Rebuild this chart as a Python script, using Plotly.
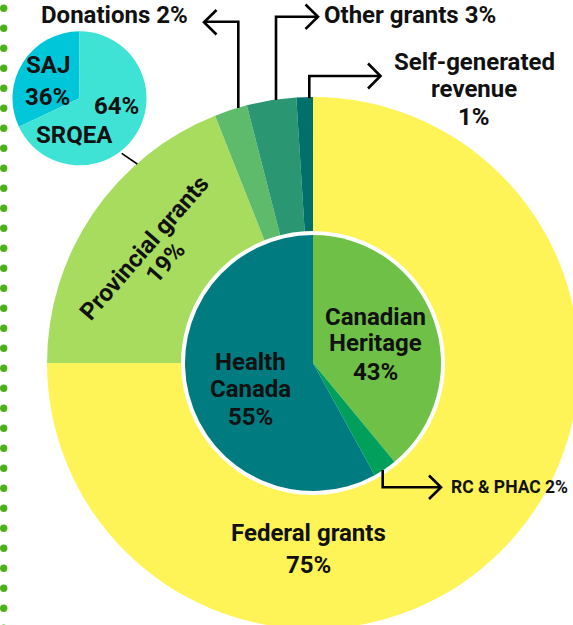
import plotly.graph_objects as go

# ---------------- data ----------------
outer_labels = ["Federal grants", "Provincial grants", "Donations", "Other grants", "Self-generated revenue"]
outer_values = [75, 19, 2, 3, 1]
outer_colors = ["#FEF458", "#A8DC5E", "#5EBB6C", "#2A9672", "#00706A"]

inner_labels = ["Canadian Heritage", "RC & PHAC", "Health Canada"]
inner_values = [39, 3, 58]          # slice sizes as drawn in the picture
inner_pct = ["43%", "2%", "55%"]     # percentages as printed
inner_colors = ["#6EC046", "#00A05C", "#007B80"]

prov_labels = ["SAJ", "SRQEA"]
prov_values = [32, 68]               # slice sizes as drawn
prov_pct = ["36%", "64%"]
prov_colors = ["#00C6DA", "#3EE3D6"]

# ---------------- layout helpers ----------------
W, H = 590, 640
def X(px):
    return px / W
def Y(py):
    return 1 - py / H
def dom(cx, cy, r):
    return dict(x=[X(cx - r), X(cx + r)], y=[Y(cy + r), Y(cy - r)])

FONT = "Roboto"
TXT = "#111111"
FS = 24

fig = go.Figure()

# outer ring
fig.add_trace(go.Pie(
    labels=outer_labels, values=outer_values, sort=False, direction="clockwise",
    rotation=0, hole=132 / 266, domain=dom(313, 363, 266),
    marker=dict(colors=outer_colors, line=dict(width=0)),
    textinfo="none", hoverinfo="label+percent", showlegend=False))

# inner federal breakdown
fig.add_trace(go.Pie(
    labels=inner_labels, values=inner_values, sort=False, direction="clockwise",
    rotation=0, domain=dom(313, 363, 128),
    marker=dict(colors=inner_colors, line=dict(width=0)),
    textinfo="none", hoverinfo="label", showlegend=False))

# small provincial breakdown (SAJ sits just left of 12 o'clock)
fig.add_trace(go.Pie(
    labels=prov_labels, values=prov_values, sort=False, direction="clockwise",
    rotation=-360 * prov_values[0] / sum(prov_values), domain=dom(79.5, 98.3, 67),
    marker=dict(colors=prov_colors, line=dict(width=0)),
    textinfo="none", hoverinfo="label", showlegend=False))

shapes = []
# dotted border on the left
for k in range(32):
    cy = 8.3 + 20 * k
    shapes.append(dict(type="circle", xref="paper", yref="paper",
                       x0=X(0), x1=X(7.4), y0=Y(cy + 3.7), y1=Y(cy - 3.7),
                       fillcolor="#4CAF1C", line=dict(width=0)))

def path(points, width=2.6, color="#000000"):
    d = "M " + " L ".join(f"{X(a):.5f},{Y(b):.5f}" for a, b in points)
    shapes.append(dict(type="path", xref="paper", yref="paper", path=d,
                       line=dict(color=color, width=width)))

# connectors with open arrow heads
path([(238.3, 108), (238.3, 21.7), (204, 21.7)])
path([(216.5, 10), (204, 22.3), (216.5, 34.5)])
path([(276, 100), (276, 16.7), (318, 16.7)])
path([(305.5, 4.5), (318, 16.7), (305.5, 29)])
path([(309.3, 98), (309.3, 76), (380.5, 76)])
path([(368, 63.5), (380.5, 76), (368, 88.5)])
path([(382.7, 470), (382.7, 487.3), (441, 487.3)])
path([(429, 475.5), (441, 487.3), (429, 499)])
# leader from provincial pie to ring
path([(121.7, 153.3), (137.3, 164)], width=1.6)

annotations = []
def ann(text, x, y, size=FS, angle=0, xanchor="center"):
    annotations.append(dict(text=text, x=X(x), y=Y(y), xref="paper", yref="paper",
                            xanchor=xanchor, yanchor="middle", showarrow=False,
                            textangle=angle,
                            font=dict(family=FONT, size=size, color=TXT, weight=700)))

ann(f"{outer_labels[2]} {outer_values[2]}%", 114.3, 15)
ann(f"{outer_labels[3]} {outer_values[3]}%", 410, 15)
ann("Self-generated", 474, 61.7)
ann("revenue", 474, 89.3)
ann(f"{outer_values[4]}%", 474, 117.3)
ann(f"{outer_labels[0]}", 308.3, 533.3)
ann(f"{outer_values[0]}%", 308.3, 565)
ann(f"{outer_labels[1]}", 144, 247.5, angle=-49)
ann(f"{outer_values[1]}%", 165, 263, angle=-49)

ann("Canadian", 376, 316.7)
ann("Heritage", 376, 343)
ann(inner_pct[0], 376, 371.7)
ann("Health", 250, 361.7)
ann("Canada", 250, 389)
ann(inner_pct[2], 250, 416.7)
ann(f"{inner_labels[1]} {inner_pct[1]}", 449, 487.3, size=17.5, xanchor="left")

ann(prov_labels[0], 47.7, 65)
ann(prov_pct[0], 47.7, 96.7)
ann(prov_pct[1], 116.7, 106)
ann(prov_labels[1], 74, 135)

fig.update_layout(
    width=W, height=H, margin=dict(l=0, r=0, t=0, b=0),
    paper_bgcolor="white", plot_bgcolor="white",
    shapes=shapes, annotations=annotations,
    font=dict(family=FONT),
)

fig.write_html("out.html",
               config={"displayModeBar": False},
               post_script="document.body.style.margin='0';"
                           "document.body.style.overflow='hidden';"
                           "document.documentElement.style.overflow='hidden';")
